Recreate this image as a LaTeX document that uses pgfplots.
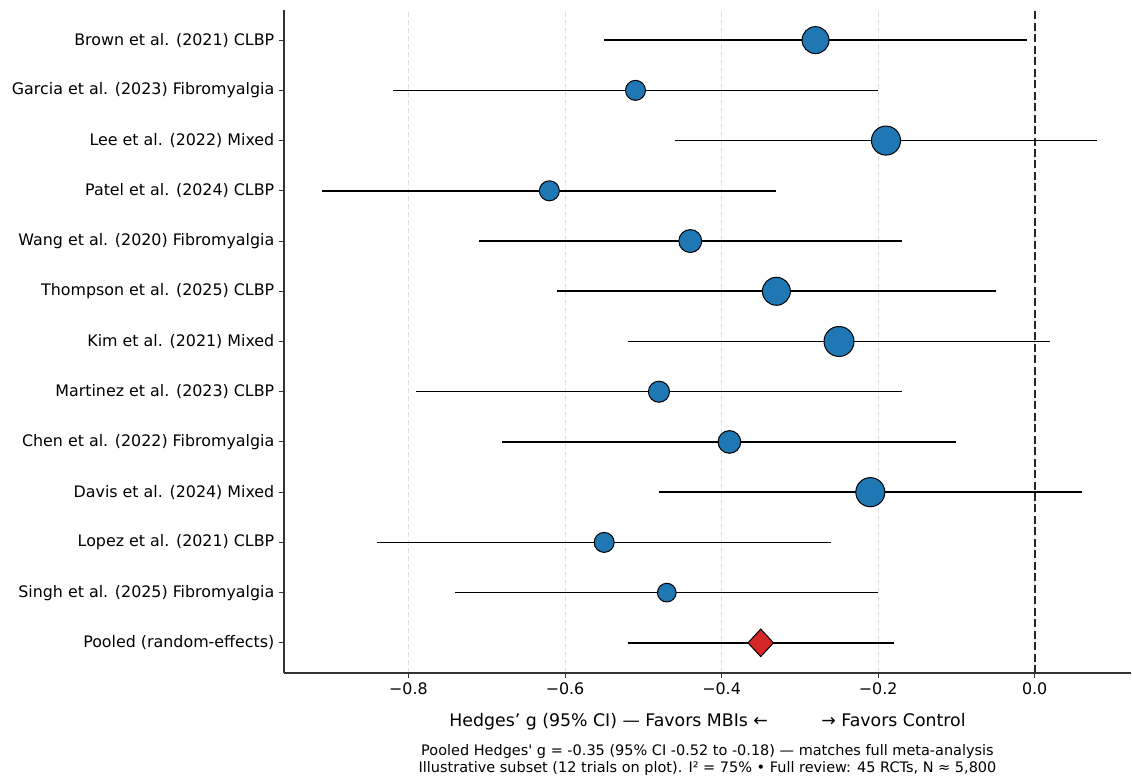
\documentclass[border=0pt]{standalone}
\usepackage{pgfplots}
\pgfplotsset{compat=1.18}
\usepackage{fontspec}
\setmainfont{DejaVu Sans}
\definecolor{mblue}{HTML}{1F77B4}
\definecolor{mred}{HTML}{D62728}
\begin{document}
\begin{tikzpicture}
\begin{axis}[
 name=ax,
 width=635.25pt, height=497.25pt, scale only axis,
 xmin=-0.959, xmax=0.123, ymin=-0.6, ymax=12.6,
 axis x line*=bottom, axis y line*=left,
 axis line style={-, line width=0.8pt, black!80},
 tick align=outside, major tick length=3.75pt,
 tick style={line width=0.7pt, black!80},
 xtick={-0.8,-0.6,-0.4,-0.2,0},
 xticklabels={−0.8,−0.6,−0.4,−0.2,0.0},
 ytick={0,1,2,3,4,5,6,7,8,9,10,11,12},
 yticklabels={Pooled (random-effects), Singh et al. (2025) Fibromyalgia, Lopez et al. (2021) CLBP, Davis et al. (2024) Mixed, Chen et al. (2022) Fibromyalgia, Martinez et al. (2023) CLBP, Kim et al. (2021) Mixed, Thompson et al. (2025) CLBP, Wang et al. (2020) Fibromyalgia, Patel et al. (2024) CLBP, Lee et al. (2022) Mixed, Garcia et al. (2023) Fibromyalgia, Brown et al. (2021) CLBP},
 tick label style={font=\fontsize{11.9}{14}\selectfont},
 xmajorgrids, ymajorgrids=false,
 major grid style={gray!25, dash pattern=on 4pt off 2pt, line width=0.6pt},
 xlabel={Hedges’ g (95\% CI) — Favors MBIs ←\hspace{40pt}→ Favors Control},
 xlabel style={font=\fontsize{13}{15}\selectfont, at={(axis description cs:0.5,0)}, anchor=center, yshift=-36.5pt},
 clip=false,
]
% zero line
\addplot[black!85, line width=1.3pt, dash pattern=on 6pt off 2.6pt] coordinates {(0,-0.6) (0,12.6)};
% CI lines
\addplot[black, line width=1.15pt] coordinates {(-0.55,12) (-0.01,12)};
\addplot[black, line width=1.15pt] coordinates {(-0.82,11) (-0.20,11)};
\addplot[black, line width=1.15pt] coordinates {(-0.46,10) (0.08,10)};
\addplot[black, line width=1.15pt] coordinates {(-0.91,9) (-0.33,9)};
\addplot[black, line width=1.15pt] coordinates {(-0.71,8) (-0.17,8)};
\addplot[black, line width=1.15pt] coordinates {(-0.61,7) (-0.05,7)};
\addplot[black, line width=1.15pt] coordinates {(-0.52,6) (0.02,6)};
\addplot[black, line width=1.15pt] coordinates {(-0.79,5) (-0.17,5)};
\addplot[black, line width=1.15pt] coordinates {(-0.68,4) (-0.10,4)};
\addplot[black, line width=1.15pt] coordinates {(-0.48,3) (0.06,3)};
\addplot[black, line width=1.15pt] coordinates {(-0.84,2) (-0.26,2)};
\addplot[black, line width=1.15pt] coordinates {(-0.74,1) (-0.20,1)};
\addplot[black, line width=1.7pt] coordinates {(-0.52,0) (-0.18,0)};
% study markers
\addplot[only marks, mark=*, mark size=10.1pt, mark options={fill=mblue, draw=black, line width=0.75pt}] coordinates {(-0.28,12)};
\addplot[only marks, mark=*, mark size=7.5pt, mark options={fill=mblue, draw=black, line width=0.75pt}] coordinates {(-0.51,11)};
\addplot[only marks, mark=*, mark size=10.9pt, mark options={fill=mblue, draw=black, line width=0.75pt}] coordinates {(-0.19,10)};
\addplot[only marks, mark=*, mark size=7.5pt, mark options={fill=mblue, draw=black, line width=0.75pt}] coordinates {(-0.62,9)};
\addplot[only marks, mark=*, mark size=8.6pt, mark options={fill=mblue, draw=black, line width=0.75pt}] coordinates {(-0.44,8)};
\addplot[only marks, mark=*, mark size=10.5pt, mark options={fill=mblue, draw=black, line width=0.75pt}] coordinates {(-0.33,7)};
\addplot[only marks, mark=*, mark size=11.25pt, mark options={fill=mblue, draw=black, line width=0.75pt}] coordinates {(-0.25,6)};
\addplot[only marks, mark=*, mark size=7.9pt, mark options={fill=mblue, draw=black, line width=0.75pt}] coordinates {(-0.48,5)};
\addplot[only marks, mark=*, mark size=8.5pt, mark options={fill=mblue, draw=black, line width=0.75pt}] coordinates {(-0.39,4)};
\addplot[only marks, mark=*, mark size=10.9pt, mark options={fill=mblue, draw=black, line width=0.75pt}] coordinates {(-0.21,3)};
\addplot[only marks, mark=*, mark size=7.5pt, mark options={fill=mblue, draw=black, line width=0.75pt}] coordinates {(-0.55,2)};
\addplot[only marks, mark=*, mark size=7.0pt, mark options={fill=mblue, draw=black, line width=0.75pt}] coordinates {(-0.47,1)};
% pooled diamond
\addplot[only marks, mark=diamond*, mark size=10.3pt, mark options={fill=mred, draw=black, line width=0.75pt, xscale=1.24}] coordinates {(-0.35,0)};
\end{axis}
\node[align=center, font=\fontsize{10.85}{12.75}\selectfont, anchor=center] at ([yshift=-65.6pt]ax.south) {Pooled Hedges\textquotesingle\ g = -0.35 (95\% CI -0.52 to -0.18) — matches full meta-analysis\\Illustrative subset (12 trials on plot). I² = 75\% • Full review: 45 RCTs, N ≈ 5,800};
\pgfresetboundingbox
\path ([xshift=-213pt, yshift=-80.25pt]ax.south west) rectangle ([xshift=0.75pt, yshift=7.5pt]ax.north east);
\end{tikzpicture}
\end{document}
